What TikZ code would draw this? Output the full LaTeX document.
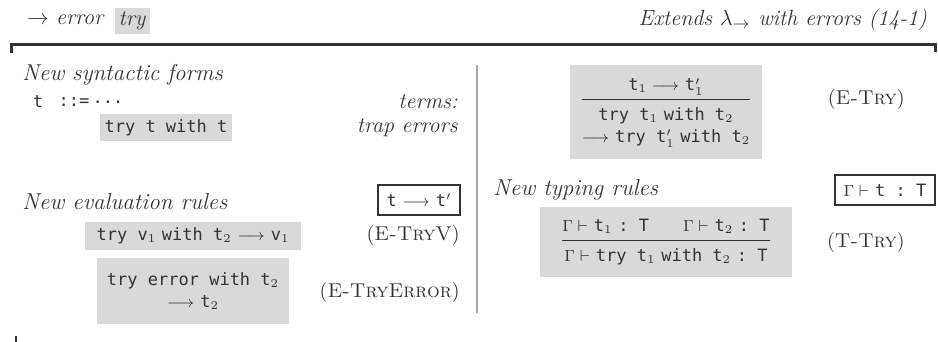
\documentclass[tikz,border=0pt]{standalone}
\usepackage{fontspec}
\setmonofont{DejaVu Sans Mono}
\definecolor{ink}{HTML}{333333}
\definecolor{shade}{HTML}{D9D9D9}
\begin{document}
\begin{tikzpicture}[
    x=0.5pt, y=-0.5pt,
    every node/.style={text=ink, font=\fontsize{11}{13}\selectfont},
    heading/.style={anchor=west, inner sep=0pt, font=\fontsize{11.5}{13}\selectfont\itshape},
    note/.style={anchor=east, inner sep=0pt, font=\fontsize{11}{13}\selectfont\itshape},
    rulename/.style={anchor=east, inner sep=0pt, font=\fontsize{10}{12}\selectfont},
    shaded/.style={fill=shade, inner sep=2pt, align=center, font=\fontsize{8.5}{11}\selectfont},
    judgement/.style={draw=ink, line width=0.6pt, inner sep=2pt, minimum height=15pt, font=\fontsize{8.5}{11}\selectfont},
    code/.style={font=\fontsize{8.5}{11}\selectfont}
]
    \useasboundingbox (0,0) rectangle (938,342);

    % header
    \node[anchor=west] (errarrow) at (20,20) {$\rightarrow$ \textit{error}};
    \node[fill=shade, inner sep=2pt, minimum width=17.5pt, minimum height=11pt, font=\fontsize{11}{13}\selectfont\itshape] (trytag) at (132,21) {try};
    \node[anchor=east, font=\fontsize{11}{13}\selectfont\itshape] (extends) at (934,20) {Extends $\lambda_{\to}$ with errors (14-1)};
    \draw[ink, line width=1.5pt] (11,53) -- (11,45) -- (935,45) -- (935,52);
    \draw[ink, line width=1pt] (16,336) -- (16,342);
    \draw[gray!70, line width=1pt] (477,65) -- (477,313);

    % syntax
    \node[heading] (synhd) at (22,75) {New syntactic forms};
    \node[code] (tvar) at (38,102) {\texttt{t}};
    \node[code] (defeq) at (74,102) {\texttt{::=}};
    \node[code] (dots) at (108,102) {\texttt{...}};
    \node[note] (terms) at (458,102) {terms:};
    \node[shaded, minimum width=66pt, minimum height=13.5pt] (trywith) at (166,128) {\texttt{try t with t}};
    \node[note] (traperr) at (458,128) {trap errors};

    % evaluation
    \node[heading] (evalhd) at (22,202) {New evaluation rules};
    \node[judgement, minimum width=41pt] (evaljd) at (419,200) {\texttt{t} $\longrightarrow$ \texttt{t}$'$};
    \node[shaded, minimum width=108pt, minimum height=13.5pt] (etryv) at (193,236)
        {\texttt{try v}$_1$ \texttt{with t}$_2$ $\longrightarrow$ \texttt{v}$_1$};
    \node[rulename] (etryvname) at (460,236) {(\textsc{E-TryV})};
    \node[shaded, minimum width=96pt, minimum height=33pt] (etryerr) at (193,291)
        {\texttt{try error with t}$_2$\\$\longrightarrow$ \texttt{t}$_2$};
    \node[rulename] (etryerrname) at (460,292) {(\textsc{E-TryError})};

    % right column
    \node[shaded, minimum width=96pt, minimum height=47pt] (etry) at (666,112)
        {\begin{tabular}{@{}c@{}}
         \texttt{t}$_1 \longrightarrow$ \texttt{t}$'_1$\\[1pt]\hline
         \rule{0pt}{10pt}\texttt{try t}$_1$ \texttt{with t}$_2$\\
         $\longrightarrow$ \texttt{try t}$'_1$ \texttt{with t}$_2$
         \end{tabular}};
    \node[rulename] (etryname) at (905,100) {(\textsc{E-Try})};
    \node[heading] (typhd) at (493,190) {New typing rules};
    \node[judgement, minimum width=50pt] (typjd) at (885,190) {$\Gamma\vdash$ \texttt{t : T}};
    \node[shaded, minimum width=126pt, minimum height=35pt] (ttry) at (666,242)
        {\begin{tabular}{@{}c@{}}
         $\Gamma\vdash$ \texttt{t}$_1$ \texttt{: T}\qquad$\Gamma\vdash$ \texttt{t}$_2$ \texttt{: T}\\[1pt]\hline
         \rule{0pt}{10pt}$\Gamma\vdash$ \texttt{try t}$_1$ \texttt{with t}$_2$ \texttt{: T}
         \end{tabular}};
    \node[rulename] (ttryname) at (905,243) {(\textsc{T-Try})};
\end{tikzpicture}
\end{document}
